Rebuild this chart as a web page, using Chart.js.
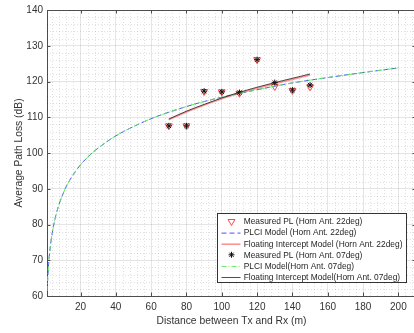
<!DOCTYPE html>
<html>
<head>
<meta charset="utf-8">
<script src="https://cdn.jsdelivr.net/npm/chart.js@4.4.1/dist/chart.umd.min.js"></script>
<style>
html,body{margin:0;padding:0;background:#fff;overflow:hidden;width:414px;height:333px;}
canvas{display:block;}
</style>
</head>
<body>
<canvas id="c" width="421" height="333"></canvas>
<script>
// ---- data ----
const measDist = [70, 80, 90, 100, 110, 120, 130, 140, 150];
const measured22 = [107.6, 107.6, 117.2, 117.1, 116.7, 126.1, 118.6, 117.5, 118.5];
const measured07 = [107.6, 107.6, 117.3, 117.1, 116.9, 126.1, 119.7, 117.6, 119.0];

const plciDist = [1, 2, 3, 4, 5, 6, 8, 10, 12, 15, 20, 25, 30, 40, 50, 60, 70, 80, 90, 100, 120, 140, 160, 180, 200];
const plci22 = [61.4, 69.6, 74.3, 77.7, 80.3, 82.5, 85.9, 88.5, 90.7, 93.3, 96.7, 99.3, 101.4, 104.8, 107.4, 109.6, 111.4, 113.0, 114.4, 115.6, 117.7, 119.6, 121.1, 122.5, 123.8];
const plci07 = [61.4, 69.6, 74.3, 77.7, 80.3, 82.5, 85.9, 88.5, 90.7, 93.3, 96.7, 99.3, 101.4, 104.8, 107.4, 109.6, 111.4, 113.0, 114.4, 115.6, 117.7, 119.6, 121.1, 122.5, 123.8];

const fiDist = [70, 80, 90, 100, 110, 120, 130, 140, 150];
const fi22 = [109.3, 111.5, 113.4, 115.2, 116.7, 118.1, 119.4, 120.6, 121.8];
const fi07 = [109.5, 111.7, 113.6, 115.4, 117.0, 118.4, 119.7, 120.9, 122.1];

const xTicks = [20, 40, 60, 80, 100, 120, 140, 160, 180, 200];
const yTicks = [60, 70, 80, 90, 100, 110, 120, 130, 140];

const legendLabels = [
  'Measured PL (Horn Ant. 22deg)',
  'PLCI Model (Horn Ant. 22deg)',
  'Floating Intercept Model (Horn Ant. 22deg)',
  'Measured PL (Horn Ant. 07deg)',
  'PLCI Model(Horn Ant. 07deg)',
  'Floating Intercept Model(Horn Ant. 07deg)'
];
const xTitle = 'Distance between Tx and Rx (m)';
const yTitle = 'Average Path Loss (dB)';

// ---- helpers ----
const FONT = '"Liberation Sans", Arial, sans-serif';
const mctx = document.createElement('canvas').getContext('2d');
function fitSize(text, width) {
  mctx.font = '100px ' + FONT;
  return 100 * width / mctx.measureText(text).width;
}
const legendFont = fitSize(legendLabels[2], 159);
const titleFont = fitSize(xTitle, 150);

const pts = (xs, ys) => xs.map((x, i) => ({x: x, y: ys[i]}));

const styles = [
  {type: 'scatter', pointStyle: 'triangle', rotation: 180, radius: 4, color: 'rgba(255,40,40,0.85)'},
  {type: 'line', color: 'rgba(60,60,255,0.9)', dash: [5, 3], width: 1},
  {type: 'line', color: 'rgba(255,60,60,0.55)', dash: [], width: 1.6},
  {type: 'scatter', pointStyle: 'star', radius: 3, color: '#111'},
  {type: 'line', color: 'rgba(90,235,90,0.95)', dash: [5, 2, 1, 2], width: 1},
  {type: 'line', color: 'rgba(20,20,20,0.75)', dash: [], width: 1}
];

const seriesData = [
  pts(measDist, measured22), pts(plciDist, plci22), pts(fiDist, fi22),
  pts(measDist, measured07), pts(plciDist, plci07), pts(fiDist, fi07)
];

const datasets = seriesData.map((d, i) => {
  const s = styles[i];
  const base = {label: legendLabels[i], data: d, order: 5 - i};
  if (s.type === 'scatter') {
    return Object.assign(base, {
      showLine: false, pointStyle: s.pointStyle, rotation: s.rotation || 0,
      pointRadius: s.radius, pointBorderColor: s.color, pointBackgroundColor: 'rgba(0,0,0,0)',
      pointBorderWidth: 1, borderColor: s.color, backgroundColor: 'rgba(0,0,0,0)'
    });
  }
  return Object.assign(base, {
    showLine: true, pointRadius: 0, borderColor: s.color, borderWidth: s.width,
    borderDash: s.dash, fill: false, cubicInterpolationMode: 'monotone', tension: 0.4
  });
});

const AXIS = '#4d4d4d';

const decor = {
  id: 'decor',
  beforeDatasetsDraw(chart) {
    const {ctx, chartArea: a, scales: {x, y}} = chart;
    ctx.save();
    ctx.strokeStyle = 'rgba(0,0,0,0.12)';
    ctx.lineWidth = 1;
    ctx.setLineDash([1, 2]);
    for (let v = 4; v < 210; v += 4) {
      if (v % 20 === 0) continue;
      const px = Math.round(x.getPixelForValue(v)) + 0.5;
      ctx.beginPath(); ctx.moveTo(px, a.top); ctx.lineTo(px, a.bottom); ctx.stroke();
    }
    for (let v = 62; v < 140; v += 2) {
      if (v % 10 === 0) continue;
      const py = Math.round(y.getPixelForValue(v)) + 0.5;
      ctx.beginPath(); ctx.moveTo(a.left, py); ctx.lineTo(a.right, py); ctx.stroke();
    }
    ctx.restore();
  },
  afterDatasetsDraw(chart) {
    const {ctx, chartArea: a, scales: {x, y}} = chart;
    ctx.save();
    ctx.strokeStyle = AXIS;
    ctx.lineWidth = 1;
    ctx.beginPath();
    ctx.moveTo(a.left, a.top + 0.5); ctx.lineTo(a.right, a.top + 0.5);
    ctx.moveTo(a.right - 0.5, a.top); ctx.lineTo(a.right - 0.5, a.bottom);
    ctx.stroke();
    ctx.beginPath();
    xTicks.forEach(v => {
      const px = Math.round(x.getPixelForValue(v)) + 0.5;
      ctx.moveTo(px, a.bottom); ctx.lineTo(px, a.bottom - 3.5);
      ctx.moveTo(px, a.top); ctx.lineTo(px, a.top + 3.5);
    });
    yTicks.forEach(v => {
      const py = Math.round(y.getPixelForValue(v)) + 0.5;
      ctx.moveTo(a.left, py); ctx.lineTo(a.left + 3.5, py);
      ctx.moveTo(a.right, py); ctx.lineTo(a.right - 3.5, py);
    });
    ctx.stroke();
    ctx.restore();
  },
  afterDraw(chart) {
    const ctx = chart.ctx;
    const bx = 217.5, by = 213.5, bw = 189, bh = 69;
    ctx.save();
    ctx.fillStyle = '#fff';
    ctx.fillRect(bx, by, bw, bh);
    ctx.strokeStyle = '#333';
    ctx.lineWidth = 1;
    ctx.setLineDash([]);
    ctx.strokeRect(bx, by, bw, bh);
    const row0 = 221.5, step = 11.1;
    const lx0 = 221.5, lx1 = 240.5, mx = 231.5, tx = 243.7;
    ctx.font = legendFont.toFixed(2) + 'px ' + FONT;
    ctx.textBaseline = 'middle';
    chart.data.datasets.forEach((ds, i) => {
      const yy = row0 + i * step;
      const s = styles[i];
      ctx.save();
      if (s.type === 'scatter') {
        ctx.strokeStyle = s.color;
        ctx.fillStyle = 'rgba(0,0,0,0)';
        ctx.lineWidth = 1;
        Chart.helpers.drawPoint(ctx, {pointStyle: s.pointStyle, rotation: s.rotation || 0, radius: s.radius, borderWidth: 1}, mx, yy);
      } else {
        ctx.strokeStyle = s.color;
        ctx.lineWidth = s.width;
        ctx.setLineDash(s.dash);
        ctx.beginPath(); ctx.moveTo(lx0, yy + 0.5); ctx.lineTo(lx1, yy + 0.5); ctx.stroke();
      }
      ctx.restore();
      ctx.fillStyle = '#262626';
      ctx.fillText(ds.label, tx, yy + 0.5);
    });
    ctx.restore();
  }
};

new Chart(document.getElementById('c'), {
  type: 'scatter',
  data: {datasets: datasets},
  options: {
    responsive: false,
    animation: false,
    devicePixelRatio: 1,
    layout: {padding: {top: 6, right: 1, left: 0, bottom: 0}},
    plugins: {legend: {display: false}, tooltip: {enabled: false}},
    scales: {
      x: {
        type: 'linear', min: 1, max: 210,
        afterBuildTicks: s => { s.ticks = xTicks.map(v => ({value: v})); },
        afterFit: s => { s.height = 37; },
        grid: {color: 'rgba(0,0,0,0.10)', drawTicks: false},
        border: {color: AXIS, width: 1},
        ticks: {color: '#333', padding: 5, maxRotation: 0, autoSkip: false,
                font: {family: FONT, size: 10}},
        title: {display: true, text: xTitle, color: '#333',
                font: {family: FONT, size: titleFont}, padding: {top: 2, bottom: 6}}
      },
      y: {
        type: 'linear', min: 60, max: 140,
        afterBuildTicks: s => { s.ticks = yTicks.map(v => ({value: v})); },
        afterFit: s => { s.width = 47; },
        grid: {color: 'rgba(0,0,0,0.10)', drawTicks: false},
        border: {color: AXIS, width: 1},
        ticks: {color: '#333', padding: 4, font: {family: FONT, size: 10}},
        title: {display: true, text: yTitle, color: '#333',
                font: {family: FONT, size: titleFont}, padding: {top: 13, bottom: 0}}
      }
    }
  },
  plugins: [decor]
});
</script>
</body>
</html>
